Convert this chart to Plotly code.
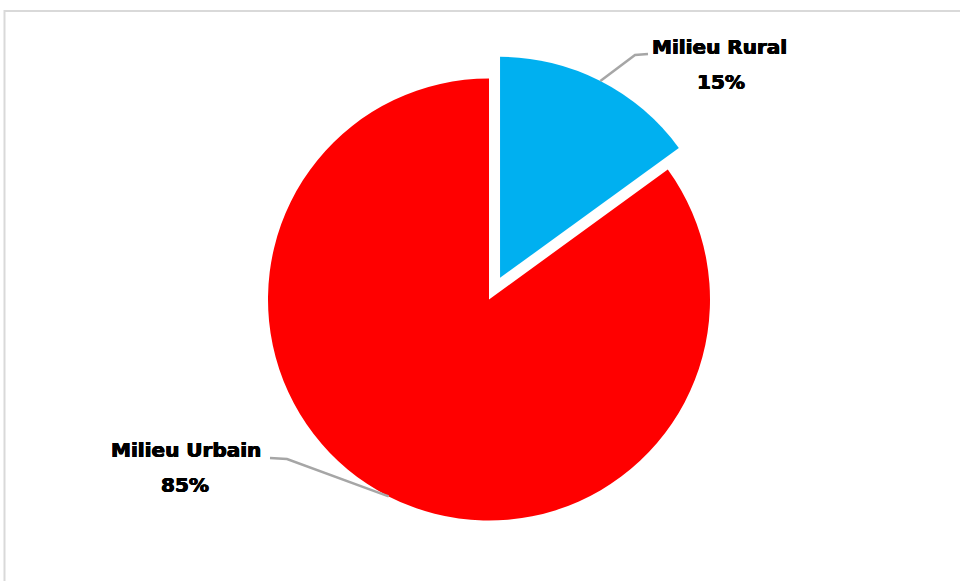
import math
import plotly.graph_objects as go

# Data
categories = ["Milieu Rural", "Milieu Urbain"]
values = [15, 85]
colors = ["#00B0F0", "#FF0000"]
pulls = [0.11, 0.0]

# Canvas and pie geometry (pixels)
W, H = 960, 581
CX, CY = 489.0, 299.5       # pie centre
R = 221.0                   # pie radius
max_pull = max(pulls)
half_box = R * (1 + max_pull)

def px_x(x):
    return x / W

def px_y(y):
    return 1 - y / H

domain_x = [px_x(CX - half_box), px_x(CX + half_box)]
domain_y = [px_y(CY + half_box), px_y(CY - half_box)]

fig = go.Figure(
    go.Pie(
        labels=categories,
        values=values,
        marker=dict(colors=colors, line=dict(width=0)),
        pull=pulls,
        sort=False,
        direction="clockwise",
        rotation=0,
        textinfo="none",
        hoverinfo="label+percent",
        domain=dict(x=domain_x, y=domain_y),
        showlegend=False,
    )
)

# Leader lines: start on each slice's outer edge at its mid-angle
total = sum(values)
label_layout = {
    # elbow point, end point, name centre, percent centre (pixels)
    "Milieu Rural": dict(elbow=(635, 55), end=(648, 54), name=(719, 47), pct=(721, 82)),
    "Milieu Urbain": dict(elbow=(287, 459), end=(270, 458), name=(186, 450), pct=(185, 485)),
}

label_font = dict(
    family="DejaVu Sans", size=20, color="#000000", weight="bold",
    shadow="0.6px 0 0 #000, -0.4px 0 0 #000, 0 0.4px 0 #000",
)

shapes = []
annotations = []
cum = 0.0
for cat, val, pull in zip(categories, values, pulls):
    mid = (cum + val / 2) / total * 2 * math.pi
    cum += val
    ox = CX + math.sin(mid) * R * pull
    oy = CY - math.cos(mid) * R * pull
    sx = ox + math.sin(mid) * R
    sy = oy - math.cos(mid) * R
    lay = label_layout[cat]
    ex, ey = lay["elbow"]
    tx, ty = lay["end"]
    shapes.append(dict(
        type="path", xref="paper", yref="paper",
        path=f"M {px_x(sx)} {px_y(sy)} L {px_x(ex)} {px_y(ey)} L {px_x(tx)} {px_y(ty)}",
        line=dict(color="#A6A6A6", width=2.5),
    ))
    pct = round(val / total * 100)
    for text, (x, y) in ((cat, lay["name"]), (f"{pct}%", lay["pct"])):
        annotations.append(dict(
            text=text, x=px_x(x), y=px_y(y), xref="paper", yref="paper",
            xanchor="center", yanchor="middle", showarrow=False,
            font=label_font,
        ))

# Chart border
shapes.append(dict(
    type="rect", xref="paper", yref="paper",
    x0=px_x(4.5), x1=px_x(W + 10), y0=px_y(H + 10), y1=px_y(11),
    line=dict(color="#D9D9D9", width=2), fillcolor="rgba(0,0,0,0)",
))

fig.update_layout(
    width=W, height=H,
    margin=dict(l=0, r=0, t=0, b=0),
    paper_bgcolor="#FFFFFF",
    plot_bgcolor="#FFFFFF",
    shapes=shapes,
    annotations=annotations,
)

fig.write_html("out.html")
